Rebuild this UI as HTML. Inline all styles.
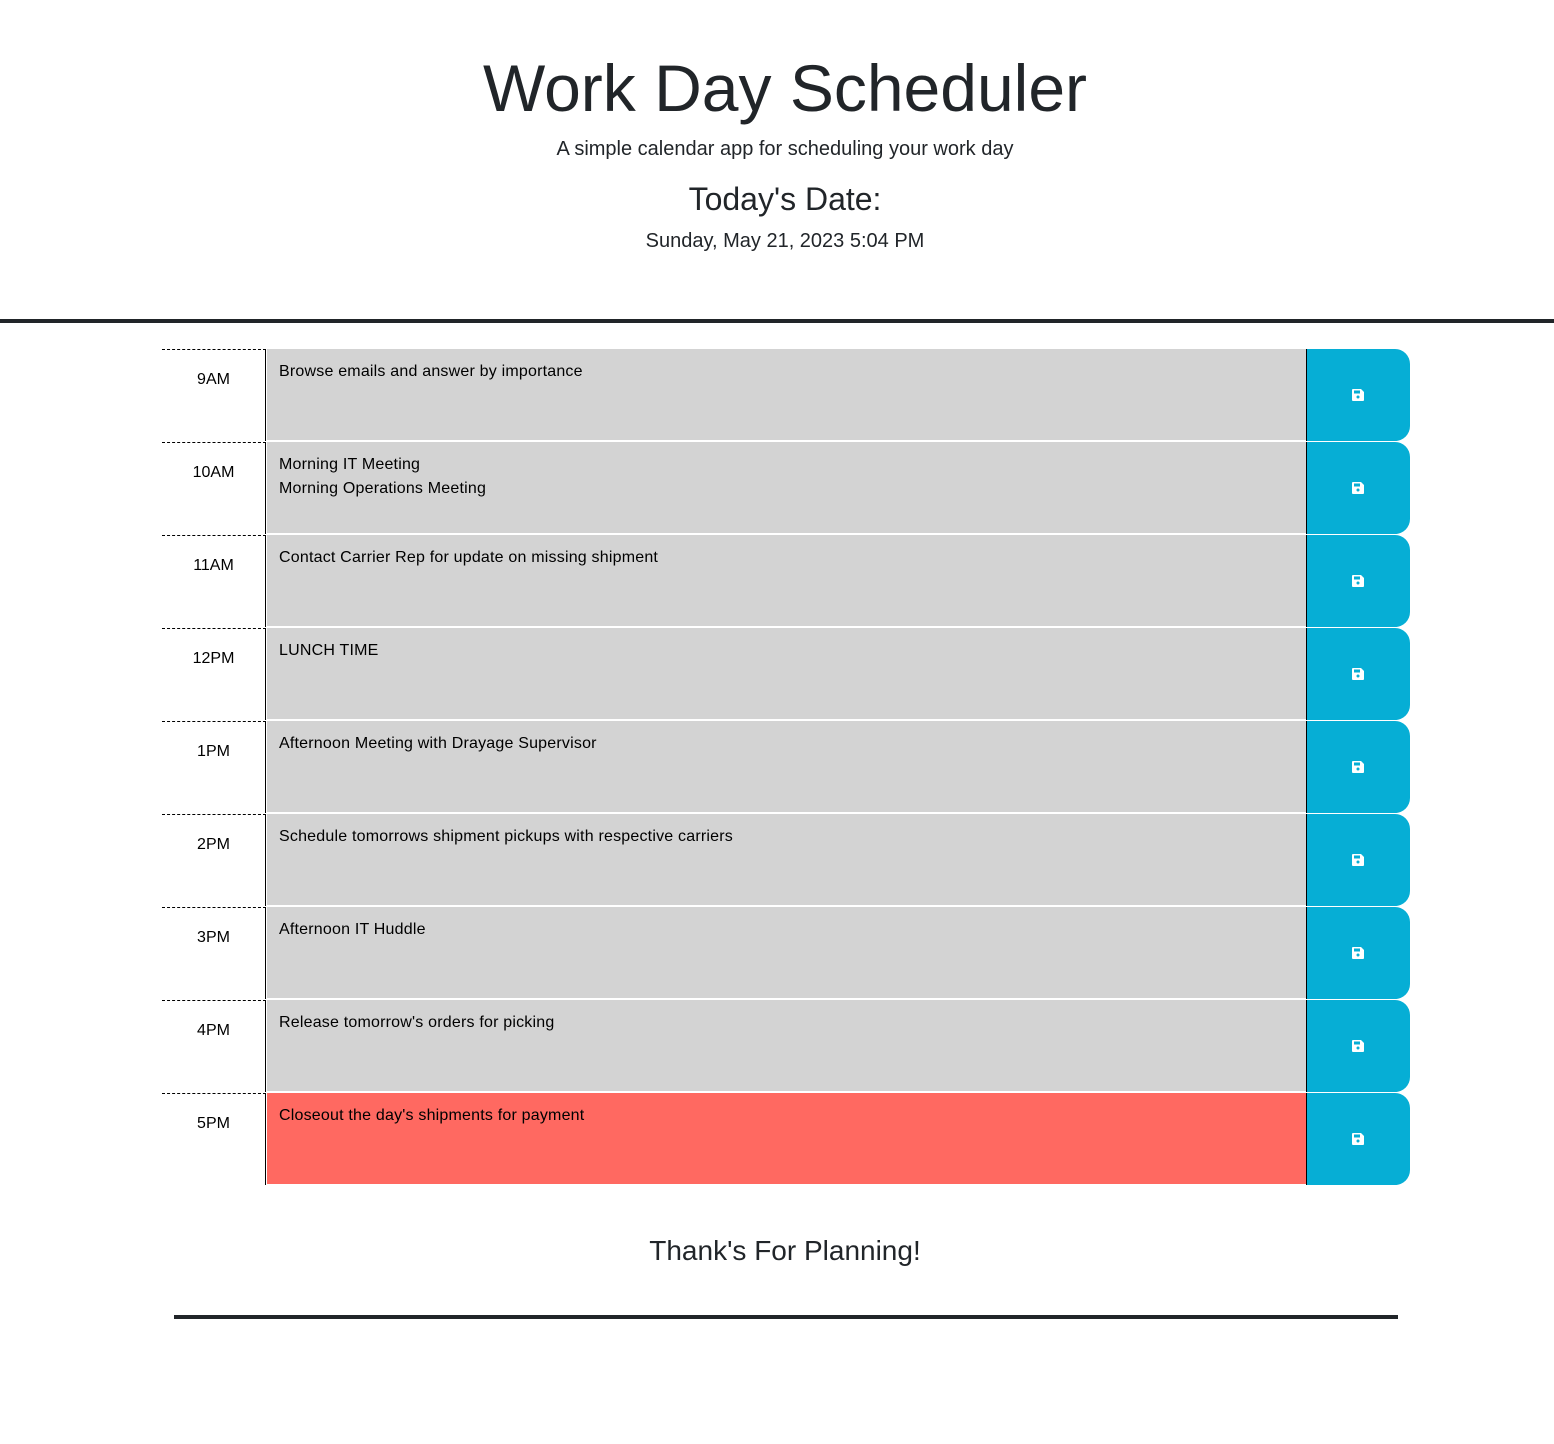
<!DOCTYPE html>
<html><head><meta charset="utf-8"><style>
body{margin:0;width:1554px;height:1444px;background:#fff;font-family:"Liberation Sans",sans-serif;color:#212529;position:relative;overflow:hidden}
.c{position:absolute;left:8px;width:1554px;text-align:center;white-space:nowrap}
.row{position:absolute;left:162px;width:1248px;height:93px}
.hour{position:absolute;left:0;top:0;width:104px;height:92px;border-top:1px dashed #000;border-right:1px solid #000;text-align:center;font-size:16px;line-height:16px;box-sizing:border-box;padding-top:22px;color:#000}
.desc{position:absolute;left:105px;top:0;width:1039px;height:92px;background:#d3d3d3;border-bottom:1px solid #fff;font-size:16px;line-height:24px;padding:11px 12px;box-sizing:border-box;color:#000;font-family:"Liberation Sans",sans-serif;letter-spacing:0.2px}
.desc.present{background:#ff6961}
.btn{position:absolute;left:1144px;top:0;width:104px;height:92px;background:#06aed5;border-left:1px solid #000;border-radius:0 15px 15px 0;box-sizing:border-box}
.btn svg{position:absolute;left:45px;top:40px}
</style></head><body>
<div class="c" style="top:48px;font-size:66px;line-height:80px">Work Day Scheduler</div>
<div class="c" style="top:137px;font-size:20px;line-height:24px">A simple calendar app for scheduling your work day</div>
<div class="c" style="top:180px;font-size:32px;line-height:38px">Today's Date:</div>
<div class="c" style="top:229px;font-size:20px;line-height:24px">Sunday, May 21, 2023 5:04 PM</div>
<div style="position:absolute;left:0;top:319px;width:1554px;height:4px;background:#212529"></div>
<div id="rows"></div>
<div class="c" style="top:1234px;font-size:28px;line-height:34px">Thank's For Planning!</div>
<div style="position:absolute;left:174px;top:1315px;width:1224px;height:4px;background:#212529"></div>
<script>
const hours=["9AM","10AM","11AM","12PM","1PM","2PM","3PM","4PM","5PM"];
const notes=["Browse emails and answer by importance","Morning IT Meeting<br>Morning Operations Meeting","Contact Carrier Rep for update on missing shipment","LUNCH TIME","Afternoon Meeting with Drayage Supervisor","Schedule tomorrows shipment pickups with respective carriers","Afternoon IT Huddle","Release tomorrow's orders for picking","Closeout the day's shipments for payment"];
const cont=document.getElementById('rows');
hours.forEach((h,i)=>{
 const r=document.createElement('div');r.className='row';r.style.top=(349+93*i)+'px';
 
 
 const hd=document.createElement('div');hd.className='hour';hd.textContent=h;
 
 
 const d=document.createElement('div');d.className='desc'+(i===8?' present':'');d.innerHTML=notes[i];
 
 
 const b=document.createElement('div');b.className='btn';
 b.innerHTML='<svg width="12" height="12" viewBox="0 0 12 12"><path d="M0 1a1 1 0 0 1 1-1h8l3 3v8a1 1 0 0 1-1 1H1a1 1 0 0 1-1-1z" fill="#fff"/><rect x="2" y="1.5" width="6" height="3" fill="#06aed5"/><circle cx="6" cy="8" r="1.5" fill="#06aed5"/></svg>';
 
 
 r.append(hd,d,b);cont.appendChild(r);
});
</script>
</body></html>
